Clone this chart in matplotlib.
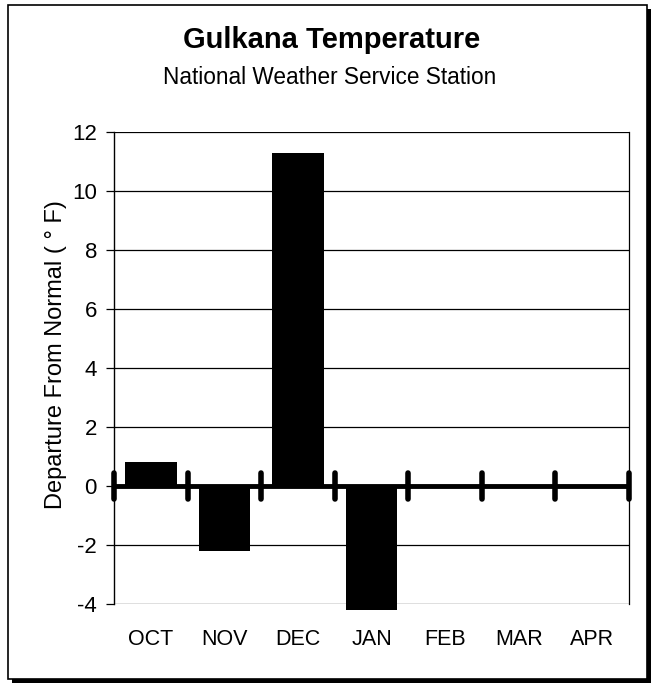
import matplotlib
matplotlib.use("Agg")
import matplotlib.pyplot as plt
from matplotlib.patches import Rectangle

plt.rcParams['font.family'] = ['Liberation Sans', 'DejaVu Sans']

months = ["OCT", "NOV", "DEC", "JAN", "FEB", "MAR", "APR"]
departures = [0.8, -2.2, 11.3, -4.2, 0.0, 0.0, 0.0]
yticks = [-4, -2, 0, 2, 4, 6, 8, 10, 12]

W, H = 655, 686
fig = plt.figure(figsize=(W / 100, H / 100), dpi=100)

def fx(px):
    return px / W

def fy(py):
    return 1 - py / H

# outer frame with drop shadow
fig.patches.append(Rectangle((fx(12), fy(683)), (651 - 12) / W, (683 - 9) / H,
                             transform=fig.transFigure, facecolor='black', edgecolor='none', zorder=0))
fig.patches.append(Rectangle((fx(8), fy(679)), (647 - 8) / W, (679 - 5) / H,
                             transform=fig.transFigure, facecolor='white', edgecolor='black', lw=1.2, zorder=1))

left, right, top, bottom = 114, 629, 132, 604
ax = fig.add_axes([fx(left), fy(bottom), (right - left) / W, (bottom - top) / H])
ax.set_zorder(2)

x = list(range(len(months)))
ax.bar(x, departures, width=0.7, color='black', clip_on=False, zorder=3)
ax.set_xlim(-0.5, len(months) - 0.5)
ax.set_ylim(-4, 12)
ax.set_yticks(yticks)
ax.set_yticklabels([str(t) for t in yticks], fontsize=16)
ax.yaxis.grid(True, color='black', lw=0.9)
ax.set_axisbelow(True)
ax.set_xticks(x)
ax.set_xticklabels(months, fontsize=15.5)
ax.tick_params(axis='x', length=0, pad=18)
ax.tick_params(axis='y', length=5.8, width=0.9, direction='out', pad=6.5)
for s in ['top', 'bottom']:
    ax.spines[s].set_visible(False)
ax.spines['left'].set_linewidth(1.0)
ax.spines['right'].set_linewidth(0.9)

# zero axis with category-boundary tick marks
ax.axhline(0, color='black', lw=3.5, zorder=4)
for b in [i - 0.5 for i in range(len(months) + 1)]:
    ax.plot([b, b], [-0.45, 0.45], color='black', lw=4, solid_capstyle='round', zorder=5, clip_on=False)

fig.text(fx(56), fy(355), "Departure From Normal ( ° F)", rotation=90, ha='center', va='center', fontsize=17)

fig.text(fx(332), fy(40), "Gulkana Temperature", ha='center', va='center',
         fontsize=21, fontweight='bold')
fig.text(fx(330), fy(77), "National Weather Service Station", ha='center', va='center',
         fontsize=16.3)

fig.savefig("out.png", dpi=100)
